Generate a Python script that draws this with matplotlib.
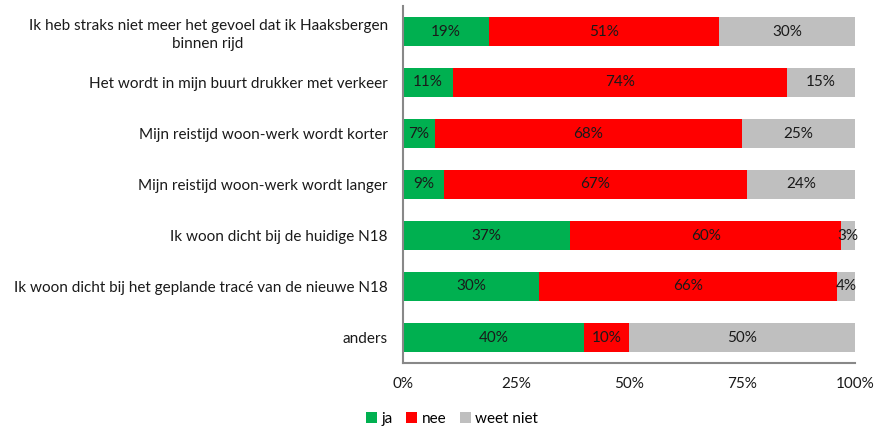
import matplotlib.pyplot as plt
import numpy as np

categories = [
    "Ik heb straks niet meer het gevoel dat ik Haaksbergen\nbinnen rijd",
    "Het wordt in mijn buurt drukker met verkeer",
    "Mijn reistijd woon-werk wordt korter",
    "Mijn reistijd woon-werk wordt langer",
    "Ik woon dicht bij de huidige N18",
    "Ik woon dicht bij het geplande tracé van de nieuwe N18",
    "anders",
]
ja = [19, 11, 7, 9, 37, 30, 40]
nee = [51, 74, 68, 67, 60, 66, 10]
weet_niet = [30, 15, 25, 24, 3, 4, 50]

series = [("ja", ja, "#00B050"), ("nee", nee, "#FF0000"), ("weet niet", weet_niet, "#BFBFBF")]

plt.rcParams['font.family'] = ['Lato', 'DejaVu Sans']
FS = 11

fig = plt.figure(figsize=(8.75, 4.29), dpi=100)
ax = fig.add_axes([403 / 875, 66 / 429, 452 / 875, 357 / 429])

y = np.arange(len(categories))
left = np.zeros(len(categories))
for name, vals, color in series:
    vals = np.array(vals, dtype=float)
    ax.barh(y, vals, left=left, height=0.55, color=color, label=name)
    for yi, l, v in zip(y, left, vals):
        ax.text(l + v / 2, yi, f"{int(v)}%", ha='center', va='center', fontsize=FS, color='#1a1a1a')
    left += vals

ax.set_xlim(0, 100)
ax.set_ylim(len(categories) - 0.5, -0.5)
ax.set_yticks(y)
ax.set_yticklabels(categories, fontsize=FS, color='#1a1a1a', ha='right', multialignment='center',
                   linespacing=1.4)
ax.set_xticks([0, 25, 50, 75, 100])
ax.set_xticklabels(["0%", "25%", "50%", "75%", "100%"], fontsize=FS, color='#1a1a1a')
ax.tick_params(axis='both', length=0)
ax.tick_params(axis='x', pad=10)
ax.tick_params(axis='y', pad=11)

for s in ['top', 'right']:
    ax.spines[s].set_visible(False)
for s in ['left', 'bottom']:
    ax.spines[s].set_color('#888888')
    ax.spines[s].set_linewidth(1.5)

fig.legend(loc='lower center', bbox_to_anchor=(452 / 875, -0.025), ncol=3, frameon=False,
           fontsize=FS, handlelength=0.7, handleheight=0.7, handletextpad=0.3, columnspacing=0.9)

fig.savefig("out.png", dpi=100)
